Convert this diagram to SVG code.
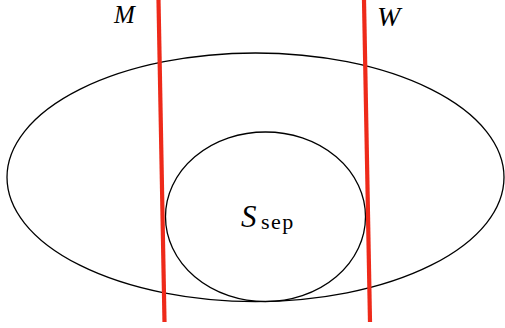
<svg xmlns="http://www.w3.org/2000/svg" width="505" height="328" viewBox="0 0 505 328">
<style>
.sh{fill:none;stroke:#000;stroke-width:1.3}
.red{stroke:#ee2a1a;stroke-width:4.2;fill:none}
text{font-family:'Liberation Serif','Times New Roman',serif;fill:#000}
.it{font-style:italic}
</style>
<rect width="505" height="328" fill="#fff"/>
<g id="outer"><ellipse class="sh" cx="255.5" cy="177.3" rx="248.5" ry="124.3"/></g>
<g id="sep"><ellipse class="sh" cx="265.5" cy="216.8" rx="100" ry="84.8"/>
<text x="241" y="227" class="it" font-size="31">S</text><text x="261" y="229" font-size="22" letter-spacing="1.5">sep</text></g>
<g id="connectors">
<line id="M" class="red" x1="158.5" y1="0" x2="164.5" y2="322"/>
<line id="W" class="red" x1="364" y1="0" x2="370" y2="322"/>
</g>
<text x="114" y="23" class="it" font-size="25">M</text>
<text x="377" y="26" class="it" font-size="28">W</text>
</svg>
